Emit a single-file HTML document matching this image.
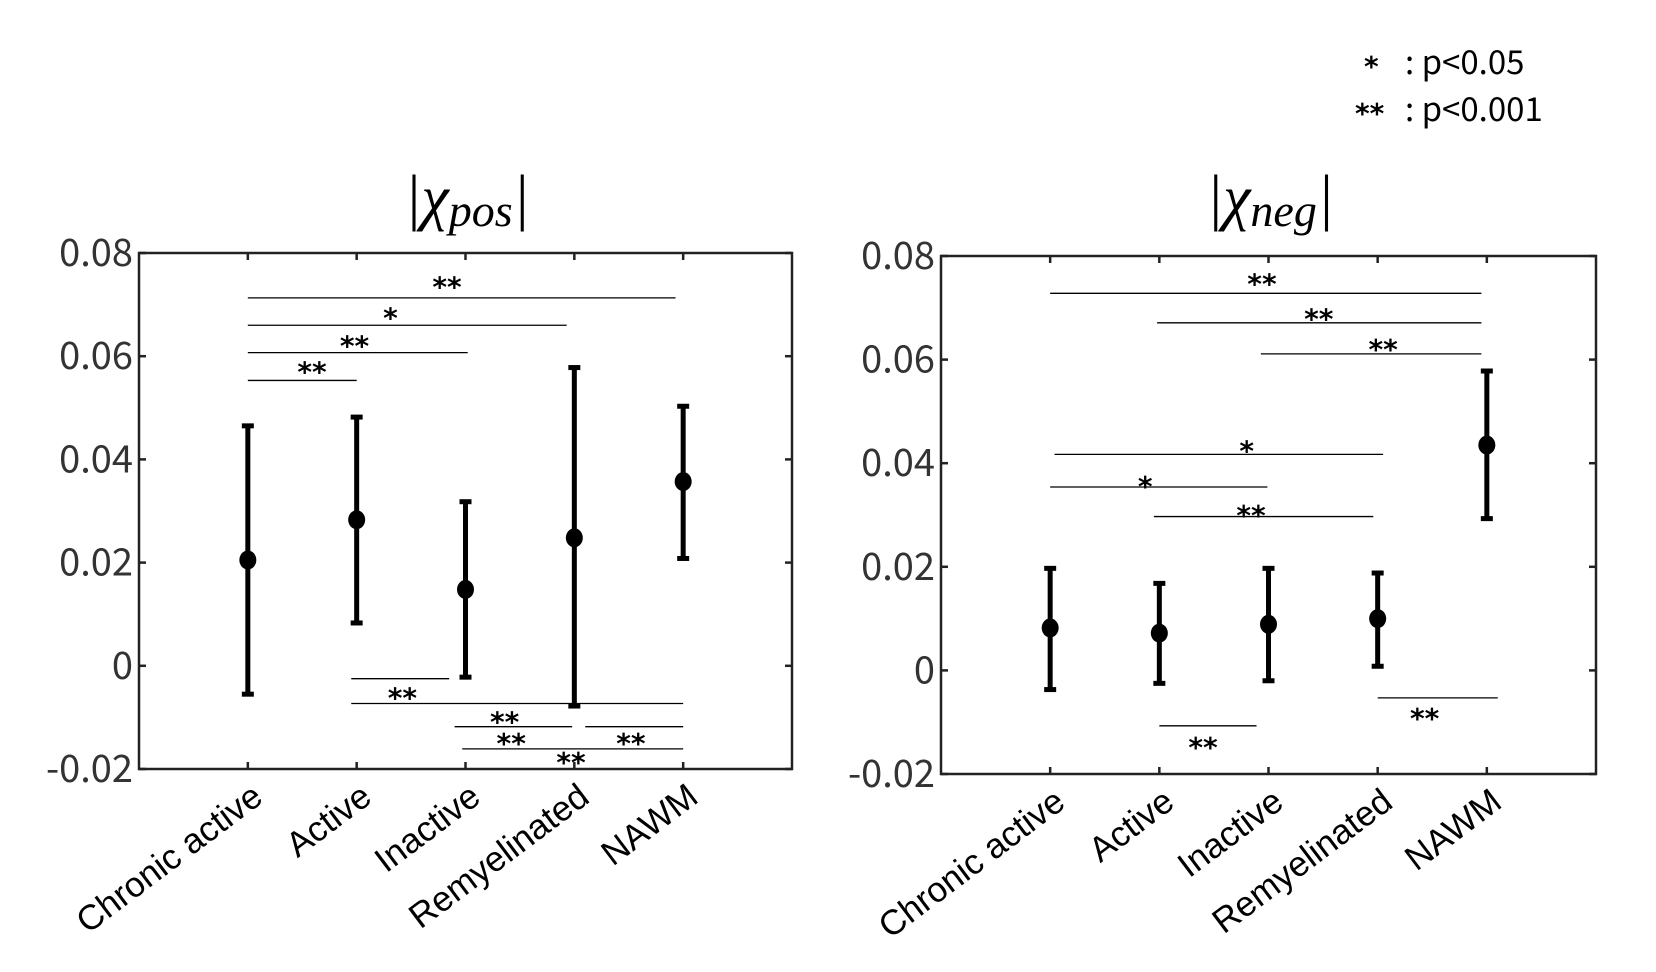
<!DOCTYPE html>
<html><head><meta charset="utf-8"><style>
body{margin:0;background:#fff}
svg{display:block;font-family:"Liberation Sans",sans-serif}
</style></head><body>
<svg id="chart" width="1656" height="972" viewBox="0 0 1656 972">
<g font-size="33" fill="#000" font-family="Noto Sans CJK SC, sans-serif">
<text x="1364" y="76" font-family="DejaVu Sans" font-weight="bold" font-size="28">*</text><text x="1405" y="74">: p&lt;0.05</text>
<text x="1355" y="123" font-family="DejaVu Sans" font-weight="bold" font-size="28">**</text><text x="1405" y="121">: p&lt;0.001</text>
</g>
<text x="467" y="218" text-anchor="middle" font-size="62" font-family="Liberation Serif" font-style="italic">|χ<tspan font-size="46" dy="8">pos</tspan><tspan dy="-8">|</tspan></text>
<text x="1270" y="218" text-anchor="middle" font-size="62" font-family="Liberation Serif" font-style="italic">|χ<tspan font-size="46" dy="8">neg</tspan><tspan dy="-8">|</tspan></text>
<g id="p1"></g>
<g id="p2"></g>
</svg>
<script>
const categories = ["Chronic active","Active","Inactive","Remyelinated","NAWM"];
const yTicks = [0.08,0.06,0.04,0.02,0,-0.02];
const yTickLabels = ["0.08","0.06","0.04","0.02","0","-0.02"];
const posMean = [0.0205,0.0283,0.0148,0.0248,0.0357];
const posLow = [-0.0055,0.0083,-0.0022,-0.0078,0.0208];
const posHigh = [0.0465,0.0482,0.0318,0.0578,0.0503];
const negMean = [0.0082,0.0072,0.0089,0.0100,0.0435];
const negLow = [-0.0037,-0.0025,-0.0020,0.0008,0.0293];
const negHigh = [0.0197,0.0168,0.0197,0.0188,0.0578];
// significance bars: [fromCategoryPos, toCategoryPos, yValue, label, labelX(cat pos), labelY value]
const posSig = [[1,4.93,0.0713,"**",2.83,0.0745],[1,3.93,0.066,"*",2.31,0.0685],[1,3.02,0.0607,"**",1.98,0.0630],[1,2.0,0.0553,"**",1.59,0.0580],
 [1.95,2.85,-0.0025,"**",2.42,-0.0052],[1.95,5.0,-0.0073,"",0,0],[2.9,3.98,-0.0118,"**",3.36,-0.0098],[4.1,5.0,-0.0118,"**",4.52,-0.0140],[2.97,5.0,-0.0161,"**",3.42,-0.0140],[0,0,0,"**",3.97,-0.0177]];
const negSig = [[1,4.95,0.0728,"**",2.94,0.0757],[1.98,4.95,0.0671,"**",3.46,0.0689],[2.93,4.95,0.0611,"**",4.05,0.0630],[1.04,4.05,0.0417,"*",2.8,0.0434],[1,2.99,0.0354,"*",1.87,0.0366],[1.95,3.96,0.0297,"**",2.84,0.0310],[4.0,5.1,-0.0053,"**",4.43,-0.0082],[2.0,2.89,-0.0107,"**",2.4,-0.0138]];
const NS="http://www.w3.org/2000/svg";
function mk(p,t,a){const e=document.createElementNS(NS,t);for(const k in a)e.setAttribute(k,a[k]);p.appendChild(e);return e;}
function panel(g,L,R,T,B,mean,low,high,sig){
 const xs=c=>L+(R-L)*c/6, ys=v=>B-(v+0.02)/0.1*(B-T);
 const fr=mk(g,'rect',{x:L,y:T,width:R-L,height:B-T,fill:'none',stroke:'#222','stroke-width':2.5});
 
 yTicks.forEach((v,i)=>{const y=ys(v);
  mk(g,'line',{x1:L,x2:L+7,y1:y,y2:y,stroke:'#222','stroke-width':2.5});
  mk(g,'line',{x1:R-7,x2:R,y1:y,y2:y,stroke:'#222','stroke-width':2.5});
  const t=mk(g,'text',{x:L-6,y:y+13,'text-anchor':'end','font-size':38,fill:'#333','font-family':'Noto Sans CJK SC, sans-serif'});t.textContent=yTickLabels[i];
  });
 categories.forEach((c,i)=>{const x=xs(i+1);
  mk(g,'line',{x1:x,x2:x,y1:B,y2:B-7,stroke:'#222','stroke-width':2.5});
  mk(g,'line',{x1:x,x2:x,y1:T,y2:T+7,stroke:'#222','stroke-width':2.5});
  const t=mk(g,'text',{x:x+17,y:B+32,'text-anchor':'end','font-size':35,fill:'#000',transform:`rotate(-37 ${x+17} ${B+32})`});t.textContent=c;
  
  const eb=mk(g,'g',{});
  mk(eb,'line',{x1:x,x2:x,y1:ys(low[i]),y2:ys(high[i]),stroke:'#000','stroke-width':5});
  mk(eb,'line',{x1:x-6,x2:x+6,y1:ys(low[i]),y2:ys(low[i]),stroke:'#000','stroke-width':5});
  mk(eb,'line',{x1:x-6,x2:x+6,y1:ys(high[i]),y2:ys(high[i]),stroke:'#000','stroke-width':5});
  const pt=mk(eb,'ellipse',{cx:x,cy:ys(mean[i]),rx:8.5,ry:9.5,fill:'#000'});
  });
 sig.forEach(s=>{
  if(s[0]!==s[1]){const l=mk(g,'line',{x1:xs(s[0]),x2:xs(s[1]),y1:ys(s[2]),y2:ys(s[2]),stroke:'#000','stroke-width':1.3});
   }
  if(s[3]){const t=mk(g,'text',{x:xs(s[4]),y:ys(s[5])+15,'text-anchor':'middle','font-size':28,'font-weight':'bold','font-family':'DejaVu Sans',fill:'#000'});t.textContent=s[3];
   }});
}
panel(document.getElementById('p1'),139,792,253,769,posMean,posLow,posHigh,posSig);
panel(document.getElementById('p2'),941,1596,256,774,negMean,negLow,negHigh,negSig);
</script>
</body></html>
